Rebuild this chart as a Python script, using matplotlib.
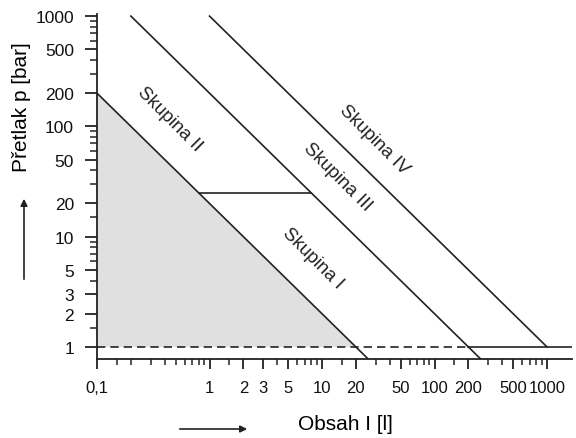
import matplotlib
matplotlib.use("Agg")
from matplotlib import pyplot as plt
from matplotlib.patches import FancyArrowPatch
from matplotlib.ticker import FixedLocator, FixedFormatter

# boundary lines (endpoints), volume [l] / pressure [bar]
line1_v = [0.1, 25.7]
line1_p = [200, 0.778]
line2_v = [0.2, 257]
line2_p = [1000, 0.778]
line3_v = [1, 1000]
line3_p = [1000, 1]
step_v = [0.8, 8]          # horizontal piece between groups I and II
step_p = [25, 25]
dash_v = [0.1, 200]        # dashed limit at 1 bar
dash_p = [1, 1]
solid_v = [200, 1667]
solid_p = [1, 1]
shade_v = [0.1, 20, 0.1]
shade_p = [200, 1, 1]

groups = ["Skupina I", "Skupina II", "Skupina III", "Skupina IV"]
group_v = [8.3, 0.44, 13.6, 29.0]
group_p = [6.5, 118, 35.5, 76]

xticks = [0.1, 1, 2, 3, 5, 10, 20, 50, 100, 200, 500, 1000]
xlabels = ["0,1", "1", "2", "3", "5", "10", "20", "50", "100", "200", "500", "1000"]
xminor = [0.15, 0.2, 0.3, 0.4, 0.5, 0.6, 0.7, 0.8, 0.9, 1.5, 4, 6, 7, 8, 9,
          15, 30, 40, 60, 70, 80, 90, 150, 300, 400, 600, 700, 800, 900]
yticks = [1, 2, 3, 5, 10, 20, 50, 100, 200, 500, 1000]
yminor = [1.5, 4, 6, 7, 8, 9, 15, 30, 40, 60, 70, 80, 90, 300, 400, 600, 700, 800, 900]

plt.rcParams['font.family'] = ['Liberation Sans', 'DejaVu Sans']

fig = plt.figure(figsize=(5.76, 4.39), dpi=100)
ax = fig.add_axes([0.1684, 0.18, 0.8247, 0.7859])
ax.set_xscale("log")
ax.set_yscale("log")
ax.set_xlim(0.1, 1667)
ax.set_ylim(0.778, 1045)

ax.fill(shade_v, shade_p, color="#e0e0e0", lw=0)
lc = "#222222"
ax.plot(line1_v, line1_p, color=lc, lw=1.2)
ax.plot(line2_v, line2_p, color=lc, lw=1.2)
ax.plot(line3_v, line3_p, color=lc, lw=1.2)
ax.plot(step_v, step_p, color=lc, lw=1.2)
ax.plot(dash_v, dash_p, color=lc, lw=1.2, ls=(0, (5, 3)))
ax.plot(solid_v, solid_p, color=lc, lw=1.2)

for name, v, p in zip(groups, group_v, group_p):
    ax.text(v, p, name, rotation=-45, ha="center", va="center",
            fontsize=13.5, rotation_mode="anchor", color="#222222")

for s in ["top", "right"]:
    ax.spines[s].set_visible(False)
for s in ["left", "bottom"]:
    ax.spines[s].set_linewidth(1.3)
    ax.spines[s].set_color(lc)

ax.xaxis.set_major_locator(FixedLocator(xticks))
ax.xaxis.set_major_formatter(FixedFormatter(xlabels))
ax.xaxis.set_minor_locator(FixedLocator(xminor))
ax.xaxis.set_minor_formatter(FixedFormatter([]))
ax.yaxis.set_major_locator(FixedLocator(yticks))
ax.yaxis.set_major_formatter(FixedFormatter([str(t) for t in yticks]))
ax.yaxis.set_minor_locator(FixedLocator(yminor))
ax.yaxis.set_minor_formatter(FixedFormatter([]))

ax.tick_params(axis="x", which="major", length=7, width=1.3, pad=8, labelsize=12,
               color=lc, labelcolor="#111111")
ax.tick_params(axis="x", which="minor", length=4, width=1.1, color=lc)
ax.tick_params(axis="y", which="major", length=8.5, width=1.3, pad=8, labelsize=12.5,
               color=lc, labelcolor="#111111")
ax.tick_params(axis="y", which="minor", length=5, width=1.1, color=lc)

fig.text(22 / 576, 1 - 107 / 439, "Přetlak p [bar]", rotation=90,
         ha="center", va="center", fontsize=15)
fig.text(345 / 576, 1 - 425 / 439, "Obsah I [l]", ha="center", va="center", fontsize=15)

fig.add_artist(FancyArrowPatch(
    (24 / 576, 1 - 283 / 439), (24 / 576, 1 - 197 / 439), transform=fig.transFigure,
    arrowstyle="-|>", mutation_scale=10, color=lc, lw=1.2))
fig.add_artist(FancyArrowPatch(
    (177 / 576, 1 - 430 / 439), (250 / 576, 1 - 430 / 439), transform=fig.transFigure,
    arrowstyle="-|>", mutation_scale=10, color=lc, lw=1.2))

fig.savefig("out.png", dpi=100)
